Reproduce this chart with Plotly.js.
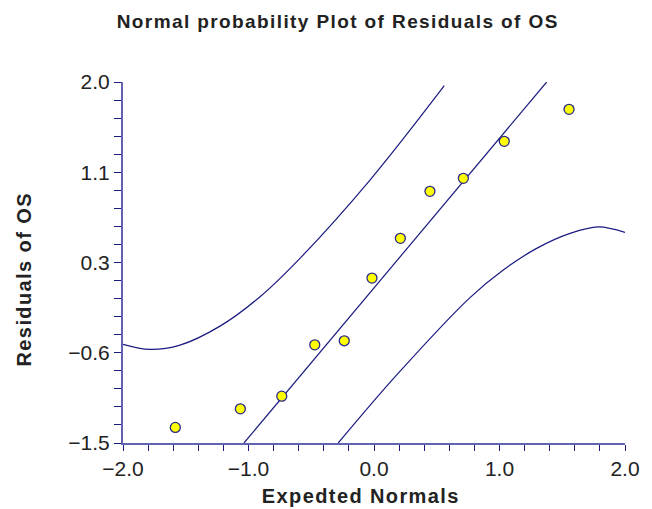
<!DOCTYPE html>
<html>
<head>
<meta charset="utf-8">
<script src="https://cdn.plot.ly/plotly-3.0.1.min.js"></script>
<style>
  html, body { margin: 0; padding: 0; background: #fff; }
  #chart { width: 652px; height: 509px; }
  #chart .gtitle, #chart .annotation-text { letter-spacing: 1.4px; }
</style>
</head>
<body>
<div id="chart"></div>
<script>
// Observed points: expected normal scores vs residuals
const expectedNormals = [-1.583, -1.065, -0.735, -0.472, -0.237, -0.016, 0.210, 0.446, 0.712, 1.038, 1.554];
const residuals = [-1.349, -1.169, -1.046, -0.548, -0.509, 0.099, 0.484, 0.940, 1.066, 1.425, 1.735];

// Reference (fit) line endpoints
const fitX = [-1.036, 1.376];
const fitY = [-1.5, 2.0];

// Upper confidence band
const upperX = [-2.0, -1.785, -1.546, -1.227, -0.908, -0.590, -0.032, 0.560];
const upperY = [-0.544, -0.593, -0.551, -0.367, -0.082, 0.290, 1.049, 1.964];

// Lower confidence band
const lowerX = [-0.285, 0.181, 0.765, 1.030, 1.296, 1.562, 1.787, 2.0];
const lowerY = [-1.5, -0.840, -0.090, 0.177, 0.387, 0.532, 0.596, 0.542];

// Axis ticks
const yTickVals = [-1.5, -0.625, 0.25, 1.125, 2.0];
const yTickText = ["\u22121.5", "\u22120.6", "0.3", "1.1", "2.0"];
const xTickVals = [-2, -1, 0, 1, 2];
const xTickText = ["\u22122.0", "\u22121.0", "0.0", "1.0", "2.0"];

const navy = '#1a1a80';
const axisLine = '#6262b2';
const textColor = '#222222';

const traces = [
  { x: upperX, y: upperY, type: 'scatter', mode: 'lines', line: { color: navy, width: 1.2, shape: 'spline', smoothing: 1 }, hoverinfo: 'skip', showlegend: false },
  { x: lowerX, y: lowerY, type: 'scatter', mode: 'lines', line: { color: navy, width: 1.2, shape: 'spline', smoothing: 1 }, hoverinfo: 'skip', showlegend: false },
  { x: fitX, y: fitY, type: 'scatter', mode: 'lines', line: { color: navy, width: 1.2 }, hoverinfo: 'skip', showlegend: false },
  { x: expectedNormals, y: residuals, type: 'scatter', mode: 'markers',
    marker: { color: '#ffff00', size: 10, line: { color: '#2a2a88', width: 1.3 } }, showlegend: false, cliponaxis: false }
];

const tickFont = { family: 'Liberation Sans, Arial, sans-serif', size: 21, color: textColor };
const boldFont = { family: 'Liberation Sans, Arial, sans-serif', size: 20, color: textColor, weight: 'bold' };

const layout = {
  width: 652, height: 509,
  margin: { l: 123, r: 27, t: 82, b: 66 },
  paper_bgcolor: '#ffffff', plot_bgcolor: '#ffffff',
  title: { text: 'Normal probability Plot of Residuals of OS', font: { ...boldFont, size: 19 },
           xref: 'container', yref: 'container', x: 0.518, xanchor: 'center', y: 0.958, yanchor: 'middle' },
  xaxis: {
    range: [-2, 2], showgrid: false, zeroline: false,
    showline: true, linecolor: axisLine, linewidth: 2,
    tickmode: 'array', tickvals: xTickVals, ticktext: xTickText,
    ticks: 'outside', ticklen: 6, tickcolor: navy, tickwidth: 1,
    tickfont: tickFont,
    minor: { tickmode: 'linear', tick0: -2, dtick: 0.2, ticks: 'outside', ticklen: 6, tickcolor: navy, tickwidth: 1 }
  },
  yaxis: {
    range: [-1.5, 2.0], showgrid: false, zeroline: false,
    showline: true, linecolor: axisLine, linewidth: 2,
    tickmode: 'array', tickvals: yTickVals, ticktext: yTickText,
    ticks: 'outside', ticklen: 7, tickcolor: navy, tickwidth: 1,
    tickfont: tickFont,
    minor: { tickmode: 'linear', tick0: -1.5, dtick: 0.175, ticks: 'outside', ticklen: 7, tickcolor: navy, tickwidth: 1 }
  },
  annotations: [
    { text: 'Expedted Normals', xref: 'paper', yref: 'paper', x: (360.5 - 123) / 502, y: (443 - 496) / 361,
      xanchor: 'center', yanchor: 'middle', showarrow: false, font: boldFont },
    { text: 'Residuals of OS', xref: 'paper', yref: 'paper', x: (24 - 123) / 502, y: (443 - 280) / 361,
      xanchor: 'center', yanchor: 'middle', showarrow: false, textangle: -90, font: boldFont }
  ]
};

Plotly.newPlot('chart', traces, layout, { displayModeBar: false, staticPlot: true });
</script>
</body>
</html>
